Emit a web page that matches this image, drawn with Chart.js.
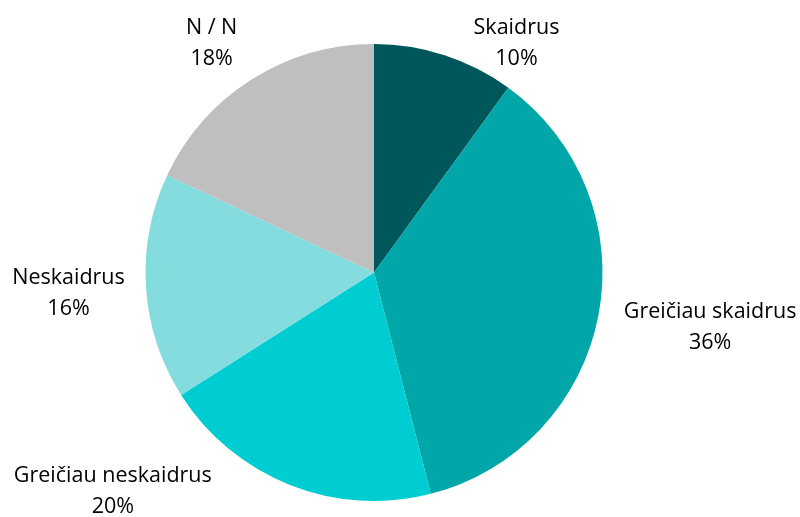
<!DOCTYPE html>
<html>
<head>
<meta charset="utf-8">
<script src="https://cdn.jsdelivr.net/npm/chart.js@4"></script>
<style>
  html, body { margin: 0; padding: 0; background: #ffffff; }
  #wrap { width: 800px; height: 517px; position: relative; }
</style>
</head>
<body>
<div id="wrap"><canvas id="c" width="800" height="517"></canvas></div>
<script>
const categories = ["Skaidrus", "Greičiau skaidrus", "Greičiau neskaidrus", "Neskaidrus", "N / N"];
const shares = [10, 36, 20, 16, 18];
const sliceColors = ["#00575B", "#00A6A8", "#00CDD2", "#85DCDE", "#BFBFBF"];

// label centre positions, polar relative to pie centre: angle (deg clockwise from top), distance in radii
const labelPolar = [[31.9, 1.18], [99.2, 1.49], [230.1, 1.49], [266.1, 1.34], [324.7, 1.23]];

const outsideLabels = {
  id: 'outsideLabels',
  afterDatasetsDraw(chart) {
    const ctx = chart.ctx;
    const meta = chart.getDatasetMeta(0);
    ctx.save();
    ctx.font = '21.5px "Open Sans", Lato, sans-serif';
    ctx.fillStyle = '#000000';
    ctx.textAlign = 'center';
    ctx.textBaseline = 'middle';
    meta.data.forEach((arc, i) => {
      const r = arc.outerRadius;
      const a = labelPolar[i][0] * Math.PI / 180;
      const d = labelPolar[i][1] * r;
      const x = arc.x + Math.sin(a) * d;
      const y = arc.y - Math.cos(a) * d;
      ctx.fillText(categories[i], x, y - 15.5);
      ctx.fillText(shares[i] + '%', x, y + 15.5);
    });
    ctx.restore();
  }
};

new Chart(document.getElementById('c'), {
  type: 'pie',
  data: {
    labels: categories,
    datasets: [{
      data: shares,
      backgroundColor: sliceColors,
      borderWidth: 0
    }]
  },
  options: {
    responsive: false,
    animation: false,
    layout: { padding: { left: 145, right: 197, top: 44, bottom: 16 } },
    plugins: {
      legend: { display: false },
      tooltip: { enabled: false }
    }
  },
  plugins: [outsideLabels]
});
</script>
</body>
</html>
